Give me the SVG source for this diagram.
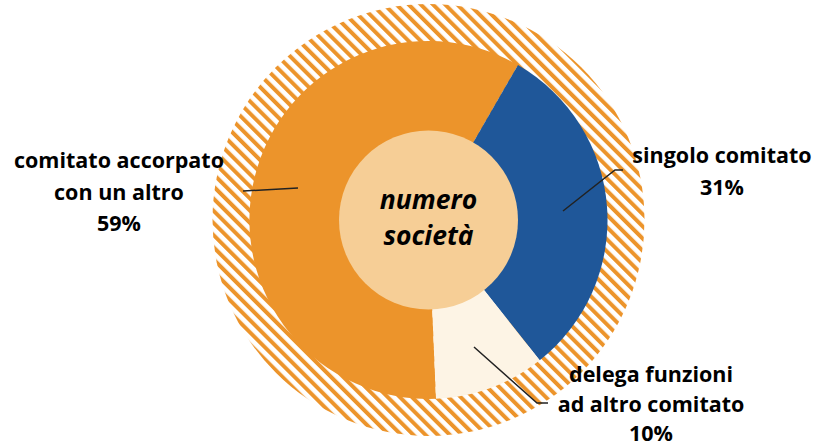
<svg xmlns="http://www.w3.org/2000/svg" width="816" height="446" viewBox="0 0 816 446">
<defs>
<pattern id="hatch" patternUnits="userSpaceOnUse" width="8.6" height="8.6" patternTransform="rotate(-45)">
<rect x="0" y="0" width="4" height="8.6" fill="#EC942B"/>
</pattern>
<style>
.lbl{font-family:"Open Sans","Lato","Liberation Sans",sans-serif;font-weight:bold;font-size:21.5px;fill:#000;text-anchor:middle}
.ctr{font-family:"Open Sans","Lato","Liberation Sans",sans-serif;font-weight:bold;font-style:italic;font-size:26.5px;fill:#000;text-anchor:middle}
.lead{fill:none;stroke:#222;stroke-width:1.5}
</style>
</defs>
<rect width="816" height="446" fill="#fff"/>
<g id="hatch-ring">
<circle cx="428.5" cy="220" r="216" fill="url(#hatch)"/>
</g>
<g id="seg-accorpato">
<path d="M428.5 220 L436.0 398.8 A179 179 0 1 1 518.0 65.0 Z" fill="#EC942B"/>
</g>
<g id="seg-singolo">
<path d="M428.5 220 L518.0 65.0 A179 179 0 0 1 539.7 360.3 Z" fill="#1F5799"/>
</g>
<g id="seg-delega">
<path d="M428.5 220 L539.7 360.3 A179 179 0 0 1 436.0 398.8 Z" fill="#FDF4E5"/>
</g>
<g id="center">
<circle cx="428.5" cy="220" r="89.5" fill="#F6CE96"/>
<text class="ctr" x="428.5" y="209">numero</text>
<text class="ctr" x="428.5" y="245">società</text>
</g>
<g id="connectors">
<polyline class="lead" points="243,191 298,188"/>
<polyline class="lead" points="623,170 615,170 563,211"/>
<polyline class="lead" points="474,347 537,403 548,403"/>
</g>
<g id="label-accorpato">
<text class="lbl" x="119" y="168">comitato accorpato</text>
<text class="lbl" x="119" y="200">con un altro</text>
<text class="lbl" x="119" y="231">59%</text>
</g>
<g id="label-singolo">
<text class="lbl" x="722" y="163">singolo comitato</text>
<text class="lbl" x="722" y="195">31%</text>
</g>
<g id="label-delega">
<text class="lbl" x="651" y="382">delega funzioni</text>
<text class="lbl" x="651" y="412">ad altro comitato</text>
<text class="lbl" x="651" y="441">10%</text>
</g>
</svg>
